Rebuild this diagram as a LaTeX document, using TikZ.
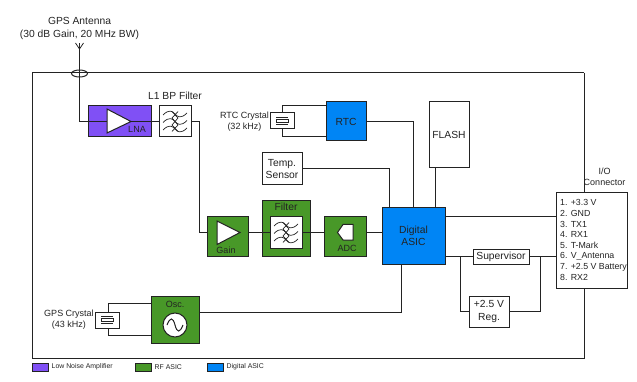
\documentclass[tikz,border=0pt]{standalone}
\usepackage{fontspec}
\setmainfont{Liberation Sans}
\usetikzlibrary{shapes.geometric, positioning, calc}
\definecolor{cPurple}{RGB}{128,80,245}
\definecolor{cGreen}{RGB}{72,152,40}
\definecolor{cBlue}{RGB}{0,133,245}
\definecolor{cLine}{RGB}{35,35,35}
\definecolor{cText}{RGB}{35,35,35}
\tikzset{
	wire/.style={draw=cLine, line width=1pt},
	block/.style={rectangle, draw=cLine, line width=1pt, inner sep=0pt, align=center, text=cText, font=\fontsize{10.3}{12.5}\selectfont},
	whitebox/.style={block, fill=white},
	lnabox/.style={block, fill=cPurple},
	rfbox/.style={block, fill=cGreen},
	asicbox/.style={block, fill=cBlue},
	amp/.style={draw=cLine, line width=1pt, fill=white, line join=miter},
	lbl/.style={inner sep=0pt, align=center, text=cText, font=\fontsize{10.3}{13}\selectfont},
	tinylbl/.style={inner sep=0pt, text=cText, font=\fontsize{9}{10}\selectfont},
	legendlbl/.style={inner sep=0pt, anchor=west, text=cText, font=\fontsize{6.9}{8}\selectfont},
	swatch/.style={block, minimum width=16pt, minimum height=8pt},
}
% three waves with a crossing chain, centred on a node
\newcommand{\filterwaves}[2]{%
	\foreach \dy in {-7.5,0,7.5} {
		\draw[wire, line width=0.7pt] ($(#1)+(-#2,\dy+1)$) .. controls ($(#1)+(-#2*0.5,\dy-5)$) and ($(#1)+(-#2*0.2,\dy-3)$) .. ($(#1)+(0,\dy)$)
			.. controls ($(#1)+(#2*0.2,\dy+3)$) and ($(#1)+(#2*0.5,\dy+5)$) .. ($(#1)+(#2,\dy-1)$);
	}
	\draw[wire, line width=0.7pt] ($(#1)+(-3,-10)$) -- ($(#1)+(3,-3.5)$) -- ($(#1)+(-3,3.5)$) -- ($(#1)+(3,10)$);
	\draw[wire, line width=0.7pt] ($(#1)+(3,-10)$) -- ($(#1)+(-3,-3.5)$) -- ($(#1)+(3,3.5)$) -- ($(#1)+(-3,10)$);
}
\newcommand{\crystalmark}[1]{%
	\draw[wire, line width=0.7pt] ($(#1)+(-6,-3.5)$) -- ($(#1)+(6,-3.5)$);
	\draw[wire, line width=0.7pt] ($(#1)+(-6,3.5)$) -- ($(#1)+(6,3.5)$);
	\draw[wire, line width=0.7pt, fill=white] ($(#1)+(-6,-1.8)$) rectangle ($(#1)+(6,1.8)$);
}
\begin{document}
\begin{tikzpicture}[x=1pt, y=-1pt]
	\useasboundingbox (0,0) rectangle (637,382);
	% enclosure
	\coordinate (antTip) at (79.5,49);
	\coordinate (boxNW) at (32,73);
	\coordinate (boxNE) at (584,73);
	\coordinate (boxSW) at (32,358);
	\coordinate (boxSE) at (584,358);
	\draw[wire] (boxNE) -- (boxNW) -- (boxSW) -- (boxSE) -- (boxNE);

	% blocks
	\node[lnabox, minimum width=63pt, minimum height=31pt] (lna) at (119.5,121.5) {};
	\node[whitebox, minimum width=32pt, minimum height=31pt] (bpf) at (175,121.5) {};
	\node[rfbox, minimum width=41pt, minimum height=39pt] (gain) at (227.5,236.5) {};
	\node[rfbox, minimum width=48pt, minimum height=55pt] (filt) at (286,228.5) {};
	\node[whitebox, minimum width=32pt, minimum height=31pt] (filtIn) at (286,232.5) {};
	\node[rfbox, minimum width=42pt, minimum height=39pt] (adc) at (345,236.5) {};
	\node[asicbox, minimum width=63pt, minimum height=56pt] (asic) at (413.5,236) {Digital\\ASIC};
	\node[asicbox, minimum width=40pt, minimum height=39pt] (rtc) at (346,121.5) {RTC};
	\node[whitebox, minimum width=24pt, minimum height=16pt] (rtcXtal) at (282,121) {};
	\node[whitebox, minimum width=40pt, minimum height=32pt] (temp) at (282,169) {Temp.\\Sensor};
	\node[whitebox, minimum width=40pt, minimum height=66pt] (flash) at (449,135) {FLASH};
	\node[whitebox, minimum width=71pt, minimum height=95pt] (conn) at (591.5,240.5) {};
	\node[whitebox, minimum width=56pt, minimum height=15pt] (sup) at (501,256.5) {Supervisor};
	\node[whitebox, minimum width=40pt, minimum height=31pt] (reg) at (489,311.5) {+2.5 V\\Reg.};
	\node[rfbox, minimum width=48pt, minimum height=47pt] (osc) at (175,319.5) {};
	\node[whitebox, minimum width=24pt, minimum height=16pt] (gpsXtal) at (107,320) {};
	\node[circle, draw=cLine, line width=1pt, fill=white, minimum size=24pt, inner sep=0pt] (sine) at (175,325) {};
	\node[draw=cLine, line width=1pt, ellipse, minimum width=16pt, minimum height=7pt, inner sep=0pt] (gland) at (79.5,73.5) {};
	\coordinate (flashFoot) at ($(flash.south west)+(7,0)$);

	% connectors
	\draw[wire] (antTip) |- (lna.west);
	\draw[wire] (lna.west) -- (107,121.5);
	\draw[wire] (lna.east) -- (bpf.west);
	\draw[wire] (bpf.east) -- ++(8,0) |- (gain.west |- filtIn.west);
	\draw[wire] (gain.east |- filtIn.west) -- (filt.west |- filtIn.west);
	\draw[wire] (filt.west |- filtIn.west) -- (filtIn.west);
	\draw[wire] (filtIn.east) -- (adc.west |- filtIn.east);
	\draw[wire] (adc.east |- filtIn.east) -- (asic.west |- filtIn.east);
	\draw[wire] (rtc.east) -| (asic.north);
	\draw[wire] (temp.east) -| ($(asic.north)+(-24.5,0)$);
	\draw[wire] (flashFoot) -- (flashFoot |- asic.north);
	\draw[wire] ($(asic.east)+(0,-19)$) -- ($(conn.west)+(0,-23.5)$);
	\draw[wire] ($(asic.east)+(0,20.5)$) -- (sup.west);
	\draw[wire] (sup.east) -- (conn.west |- sup.east);
	\draw[wire] ($(sup.west)+(-12,0)$) |- (reg.west);
	\draw[wire] (reg.east) -| ($(sup.east)+(11,0)$);
	\draw[wire] ($(osc.east)+(0,-7.5)$) -| ($(asic.south)+(-12.5,0)$);
	\draw[wire] (rtcXtal.north) |- ($(rtc.west)+(0,-16)$);
	\draw[wire] (rtcXtal.south) |- ($(rtc.west)+(0,15.5)$);
	\draw[wire] ($(gpsXtal.north)+(1,0)$) |- ($(osc.west)+(0,-16.5)$);
	\draw[wire] ($(gpsXtal.south)+(1,0)$) |- ($(osc.west)+(0,15.5)$);

	% antenna tip
	\draw[wire, line width=0.7pt] (antTip) ++(-4,-6) -- (antTip) -- ++(4,-6);
	\draw[wire, line width=0.7pt] (antTip) -- ++(0,-6);

	% symbols inside blocks
	\draw[amp] (107,109) -- (131,121.5) -- (107,133) -- cycle;
	\draw[wire] (131,121.5) -- (lna.east);
	\draw[amp] (217,221) -- (240,232.5) -- (217,244.5) -- cycle;
	\draw[amp] (337.5,232.5) -- (343,224.5) -- (353,224.5) -- (353,240) -- (343,240) -- cycle;
	\filterwaves{bpf}{12}
	\filterwaves{filtIn}{12}
	\crystalmark{rtcXtal}
	\crystalmark{gpsXtal}
	\draw[wire] (167,325) .. controls (170,317) and (173,317) .. (175,325) .. controls (177,333) and (180,333) .. (183,325);

	% labels
	\node[lbl] (antLbl) at (79.5,28) {GPS Antenna\\(30 dB Gain, 20 MHz BW)};
	\node[lbl] (bpfLbl) at (175,95.5) {L1 BP Filter};
	\node[tinylbl] (lnaLbl) at (137,129.5) {LNA};
	\node[tinylbl] (gainLbl) at (226,250) {Gain};
	\node[lbl] (filtLbl) at (286,206.5) {Filter};
	\node[tinylbl] (adcLbl) at (347,248) {ADC};
	\node[tinylbl] (oscLbl) at (175,304) {Osc.};
	\node[lbl, font=\fontsize{9}{10.5}\selectfont] (rtcXtalLbl) at (244.5,121.5) {RTC Crystal\\(32 kHz)};
	\node[lbl, font=\fontsize{9}{11}\selectfont] (gpsXtalLbl) at (69,320) {GPS Crystal\\(43 kHz)};
	\node[lbl, font=\fontsize{9}{11}\selectfont] (connLbl) at (604.5,176.5) {I/O\\Connector};
	\node[lbl, font=\fontsize{8.8}{10.6}\selectfont, align=left, anchor=north west] (pins) at (560,199.5) {1. +3.3 V\\2. GND\\3. TX1\\4. RX1\\5. T-Mark\\6. V\_Antenna\\7. +2.5 V Battery\\8. RX2};

	% legend
	\node[swatch, fill=cPurple] (keyLna) at (40,367) {};
	\node[legendlbl, right=3pt of keyLna] (keyLnaLbl) {Low Noise Amplifier};
	\node[swatch, fill=cGreen] (keyRf) at (143,367) {};
	\node[legendlbl, right=3pt of keyRf] (keyRfLbl) {RF ASIC};
	\node[swatch, fill=cBlue] (keyAsic) at (215,367) {};
	\node[legendlbl, right=3pt of keyAsic] (keyAsicLbl) {Digital ASIC};
\end{tikzpicture}
\end{document}
